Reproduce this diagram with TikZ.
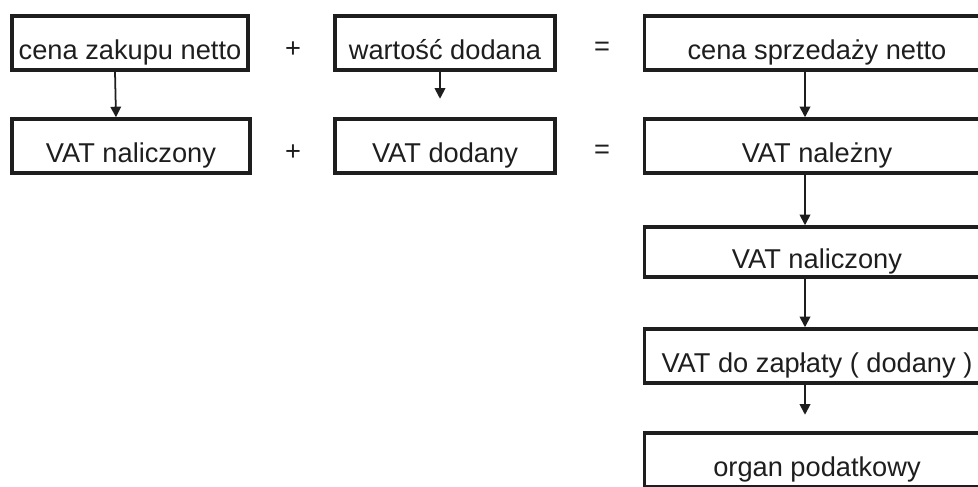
\documentclass[tikz,border=0pt]{standalone}
\usepackage{fontspec}
\setmainfont{Liberation Sans}
\usepackage{xcolor}
\usetikzlibrary{arrows.meta,positioning}
\definecolor{inkBlack}{HTML}{1E1E1E}

\begin{document}
\begin{tikzpicture}[x=0.02cm, y=-0.02cm, font=\fontsize{15.5}{18}\selectfont, inkBlack,
  box/.style={draw=inkBlack, line width=2pt, inner sep=0pt, text height=19pt, text depth=0pt, minimum height=1.08cm},
  sign/.style={inkBlack},
  arr/.style={-{Triangle[width=6pt, length=6pt]}, draw=inkBlack, line width=1pt}]
  \path[use as bounding box, clip] (0,0) rectangle (978,487);
  % row 1: zakup + wartosc = sprzedaz
  \node[box, minimum width=4.72cm] (zakup) at (130,43) {cena zakupu netto};
  \node[sign] (plusA) at (293,50) {+};
  \node[box, minimum width=4.4cm] (wartosc) at (445,43) {wartość dodana};
  \node[sign] (eqA) at (602,49) {=};
  \node[box, minimum width=6.9cm] (sprzedaz) at (817,43) {cena sprzedaży netto};
  % row 2: naliczony + dodany = nalezny
  \node[box, minimum width=4.76cm] (naliczony) at (131,146) {VAT naliczony};
  \node[sign] (plusB) at (293,153) {+};
  \node[box, minimum width=4.4cm] (dodany) at (445,146) {VAT dodany};
  \node[sign] (eqB) at (602,152) {=};
  \node[box, minimum width=6.9cm] (nalezny) at (817,146) {VAT należny};
  % right column
  \node[box, minimum width=6.9cm, minimum height=1.0cm] (naliczonyR) at (817,252) {VAT naliczony};
  \node[box, minimum width=6.9cm] (zaplata) at (817,356) {VAT do zapłaty ( dodany )};
  \node[box, minimum width=6.9cm] (organ) at (817,460) {organ podatkowy};
  % arrows
  \draw[arr] ([xshift=-0.3cm]zakup.south) -- ([xshift=-0.3cm]naliczony.north);
  \coordinate (wartoscEnd) at ([xshift=-0.1cm, yshift=-0.54cm]wartosc.south);
  \draw[arr] ([xshift=-0.1cm]wartosc.south) -- (wartoscEnd);
  \foreach \a/\b in {sprzedaz/nalezny, nalezny/naliczonyR, naliczonyR/zaplata}
    {\draw[arr] ([xshift=-0.24cm]\a.south) -- ([xshift=-0.24cm]\b.north);}
  \coordinate (zaplataEnd) at ([xshift=-0.24cm, yshift=-0.6cm]zaplata.south);
  \draw[arr] ([xshift=-0.24cm]zaplata.south) -- (zaplataEnd);
\end{tikzpicture}
\end{document}
